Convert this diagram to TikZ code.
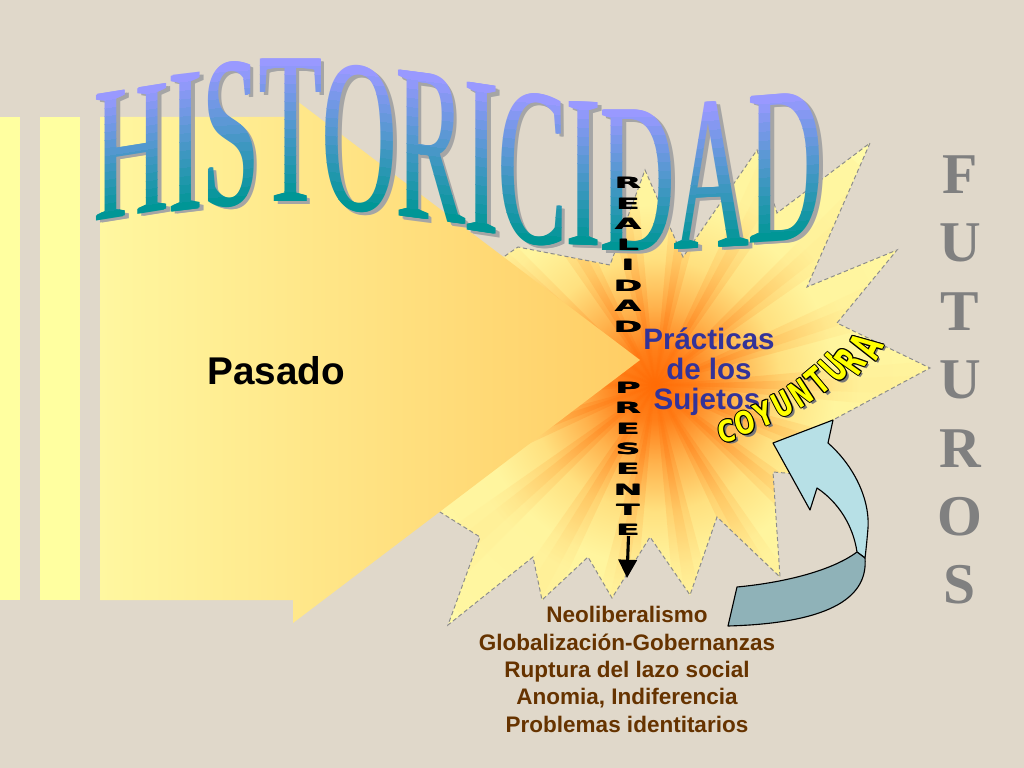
\documentclass[tikz,border=0pt]{standalone}
\usepackage{fontspec}
\setmainfont{Liberation Sans}
\newfontfamily\ttlfont{Liberation Serif}
\newfontfamily\djv{DejaVu Sans}
\usetikzlibrary{arrows.meta}

\definecolor{bgc}{RGB}{224,216,202}
\definecolor{baryel}{RGB}{255,255,160}
\definecolor{arrL}{RGB}{255,247,160}
\definecolor{arrR}{RGB}{255,205,100}
\definecolor{peri}{RGB}{153,153,255}
\definecolor{tealc}{RGB}{0,150,150}
\definecolor{shad}{RGB}{165,165,165}
\definecolor{prac}{RGB}{51,51,153}
\definecolor{brownt}{RGB}{102,51,0}
\definecolor{futc}{RGB}{128,128,128}
\definecolor{lblue}{RGB}{183,224,230}
\definecolor{dblue}{RGB}{143,178,184}
\definecolor{coyel}{RGB}{255,255,0}
\definecolor{pale}{RGB}{255,250,168}
\definecolor{dashc}{RGB}{140,140,140}
\definecolor{coysh}{RGB}{120,120,120}

% the circle edge corresponds to 25bp
\pgfdeclareradialshading{burst}{\pgfpoint{0bp}{0bp}}{rgb(0bp)=(1,0.42,0.02); rgb(3bp)=(1,0.5,0.1); rgb(6.5bp)=(1,0.7,0.3); rgb(10.5bp)=(1,0.88,0.5); rgb(15bp)=(1,0.96,0.62); rgb(50bp)=(1,0.98,0.66)}
\pgfdeclareradialshading{rays}{\pgfpoint{0bp}{0bp}}{rgb(0bp)=(1,0.42,0.02); rgb(6bp)=(1,0.5,0.1); rgb(11bp)=(1,0.72,0.32); rgb(17bp)=(1,0.93,0.58); rgb(50bp)=(1,0.98,0.66)}

\newcommand\burst[1]{\path[#1] (470,280) -- (518,247) -- (610,265) -- (645,170) -- (683,257) -- (757,150) -- (777,213) -- (870,143) -- (807,287) -- (897,250) -- (837,323) -- (930,368) -- (818,428) -- (845,478) -- (773,472) -- (780,577) -- (717,517) -- (690,595) -- (650,537) -- (612,598) -- (588,557) -- (542,600) -- (533,557) -- (448,625) -- (480,537) -- (440,512) -- (400,470) -- (420,400) -- (380,360) -- cycle;}

\newcommand\tletter[6]{%
 \begin{scope}[shift={(#2,#3)}, yslant=#4]
  \node[ttl, text=shad] (#1) at (3,3) {\scalebox{1}[#5]{#6}};
  \node[ttl, text=shad] at (4.2,3) {\scalebox{1}[#5]{#6}};
  \pgfmathsetmacro\hh{68*#5}
  \foreach \i in {0,...,15}{%
    \pgfmathsetmacro\ya{\i==0 ? 12 : -\hh*\i/16}%
    \pgfmathsetmacro\yb{\i==15 ? -\hh-15 : -\hh*(\i+1)/16}%
    \pgfmathtruncatemacro\pc{100-100*\i/15}%
    \begin{scope}
      \clip (-60,\ya) rectangle (60,\yb);
      \foreach \dx in {-1,0,1}
        \node[ttl, text=tealc!\pc!peri] at (\dx,0) {\scalebox{1}[#5]{#6}};
    \end{scope}
  }
 \end{scope}}

\begin{document}
\begin{tikzpicture}[x=0.025cm,y=-0.025cm,
  ttl/.style={font=\ttlfont\fontsize{73}{80}\selectfont, inner sep=0pt, anchor=base, transform shape},
  vl/.style={font=\djv\bfseries\fontsize{11}{12}\selectfont, inner sep=0pt},
  prtxt/.style={font=\bfseries\fontsize{21}{24}\selectfont, text=prac, inner sep=0pt, anchor=base},
  bottxt/.style={font=\bfseries\fontsize{16}{19}\selectfont, text=brownt, inner sep=0pt, anchor=base},
  futl/.style={font=\ttlfont\bfseries\fontsize{41}{44}\selectfont, text=futc, inner sep=0pt},
  coyf/.style={font=\djv\bfseries\fontsize{21}{23}\selectfont, inner sep=0pt},
  bararrow/.style={line width=2.2pt, -{Triangle[width=13pt,length=13pt]}}]
\useasboundingbox (0,0) rectangle (1024,768);
\fill[bgc] (0,0) rectangle (1024,768);
% stripes
\fill[baryel] (0,117) rectangle (20,600);
\fill[baryel] (40,117) rectangle (80,600);
% starburst
\burst{fill=pale}
\begin{scope}
  \burst{clip}
  \shade[shading=burst] (655,385) circle (7.5cm);
  \foreach \a in {0,20,...,340}{
    \begin{scope}
      \clip (655,385) -- +(\a-5:9cm) -- +(\a+5:9cm) -- cycle;
      \shade[shading=rays, opacity=0.3] (655,385) circle (7.5cm);
    \end{scope}
    \begin{scope}
      \clip (655,385) -- +(\a-2:9cm) -- +(\a+2:9cm) -- cycle;
      \shade[shading=rays, opacity=0.35] (655,385) circle (7.5cm);
    \end{scope}}
\end{scope}
\burst{draw=dashc, line width=0.7pt, dash pattern=on 3pt off 2pt}
% big arrow
\shade[left color=arrL, right color=arrR] (100,117) -- (293,117) -- (293,98) -- (640,360) -- (293,623) -- (293,600) -- (100,600) -- cycle;
% title
\tletter{tH}{132}{215}{0.16}{1.87}{H}
\tletter{tIa}{186}{210}{0.12}{2.02}{I}
\tletter{tS}{231}{205}{0.07}{2.1}{S}
\tletter{tT}{291}{201}{0.0}{2.12}{T}
\tletter{tO}{360}{210}{-0.08}{2.12}{O}
\tletter{tR}{431}{220}{-0.13}{2.17}{R}
\tletter{tIb}{482}{232}{-0.15}{2.2}{I}
\tletter{tC}{533}{243}{-0.1}{2.2}{C}
\tletter{tIc}{584}{245}{-0.04}{2.13}{I}
\tletter{tDa}{638}{250}{0.0}{2.09}{D}
\tletter{tA}{712}{248}{0.05}{2.15}{A}
\tletter{tDb}{786}{240}{0.08}{2.17}{D}
% vertical words
\foreach \l [count=\n] in {R,E,A,L,I,D,A,D}{
  \node[vl] at ({628-0.5},{183+20.5*(\n-1)}) {\scalebox{2.2}[1]{\l}};
  \node[vl] (re\n) at ({628+0.5},{183+20.5*(\n-1)}) {\scalebox{2.2}[1]{\l}};}
\foreach \l [count=\n] in {P,R,E,S,E,N,T,E}{
  \node[vl] at ({628-0.5},{388+20.3*(\n-1)}) {\scalebox{2.2}[1]{\l}};
  \node[vl] (pr\n) at ({628+0.5},{388+20.3*(\n-1)}) {\scalebox{2.2}[1]{\l}};}
\coordinate (parr) at (627,578);
\draw[bararrow] (pr8.south) -- (parr);
% Pasado
\node[font=\bfseries\fontsize{27.5}{30}\selectfont, inner sep=0pt, anchor=base] (pasado) at (276,384) {Pasado};
% practicas
\node[prtxt] (pr1l) at (709,349) {Prácticas};
\node[prtxt] (pr2l) at (709,379) {de los};
\node[prtxt] (pr3l) at (707,409) {Sujetos};
% curved arrow
\filldraw[fill=lblue, draw=black, line width=0.8pt, line join=round] (833,420) -- (828,443) .. controls (850,462) and (870,495) .. (868,528) .. controls (867,540) and (866,550) .. (865,558) -- (857,552) .. controls (853,525) and (838,502) .. (817,488) -- (810,510) -- (773,443) -- cycle;
\filldraw[fill=dblue, draw=black, line width=0.8pt, line join=round] (857,552) .. controls (830,572) and (780,583) .. (737,587) -- (728,626) .. controls (835,623) and (868,595) .. (865,558) -- cycle;
% COYUNTURA
\foreach \x/\y/\r/\s/\l [count=\n] in {727/431/12/1.0/C, 745/423/17/1.05/O, 764/414/22/1.1/Y, 783/404/27/1.15/U, 801/393/33/1.2/N, 818/381/40/1.28/T, 834/368/47/1.35/U, 850/361/55/1.42/R, 866/346/63/1.5/A}{
  \node[coyf, text=coysh, rotate=\r] at (\x+2.5,\y+2.5) {\scalebox{0.8}[\s]{\l}};
  \foreach \dx/\dy in {1/0,-1/0,0/1,0/-1,0.7/0.7,-0.7/0.7,0.7/-0.7,-0.7/-0.7}
    \node[coyf, text=black, rotate=\r] at (\x+\dx,\y+\dy) {\scalebox{0.8}[\s]{\l}};
  \node[coyf, text=coyel, rotate=\r] (coy\n) at (\x,\y) {\scalebox{0.8}[\s]{\l}};
}
% bottom text
\node[bottxt] (b1) at (627,622) {Neoliberalismo};
\node[bottxt] (b2) at (627,650) {Globalización-Gobernanzas};
\node[bottxt] (b3) at (627,677) {Ruptura del lazo social};
\node[bottxt] (b4) at (627,704) {Anomia, Indiferencia};
\node[bottxt] (b5) at (627,732) {Problemas identitarios};
% FUTUROS
\foreach \l [count=\n] in {F,U,T,U,R,O,S}
  \node[futl] (fu\n) at (960,{175+68.3*(\n-1)}) {\l};
\end{tikzpicture}
\end{document}
